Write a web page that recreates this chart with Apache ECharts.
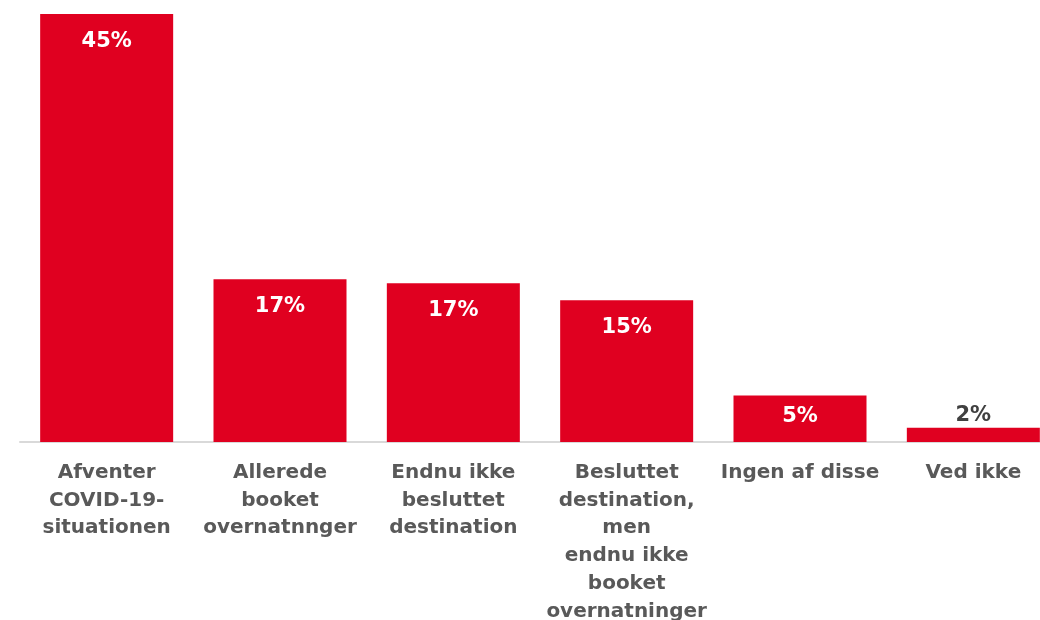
<!DOCTYPE html>
<html>
<head>
<meta charset="utf-8">
<script src="https://cdn.jsdelivr.net/npm/echarts@6/dist/echarts.min.js"></script>
<style>
  html, body { margin: 0; padding: 0; background: #fff; }
  #main { width: 1040px; height: 620px; }
</style>
</head>
<body>
<div id="main"></div>
<script>
// kategorier (med linjeskift som i originalen)
let categories = [
  "Afventer\nCOVID-19-\nsituationen",
  "Allerede\nbooket\novernatnnger",
  "Endnu ikke\nbesluttet\ndestination",
  "Besluttet\ndestination,\nmen\nendnu ikke\nbooket\novernatninger",
  "Ingen af disse",
  "Ved ikke",
];

// andel i procent
let values = [45, 17.1, 16.7, 14.9, 4.9, 1.5];

let red = "#e00020";
let font = "'DejaVu Sans', sans-serif";

let myChart = echarts.init(document.getElementById("main"));

let option = {
  animation: false,
  grid: {
    left: 20,
    right: -20,
    top: 14,
    bottom: 178,
    outerBoundsMode: "none",
  },
  xAxis: {
    type: "category",
    data: categories,
    axisTick: { show: false },
    axisLine: { lineStyle: { color: "#d9d9d9", width: 2 } },
    axisLabel: {
      interval: 0,
      margin: 17,
      color: "#595959",
      fontFamily: font,
      fontWeight: "bold",
      fontSize: 20,
      lineHeight: 27.7,
    },
  },
  yAxis: {
    type: "value",
    min: 0,
    max: 45,
    show: false,
    splitLine: { show: false },
  },
  series: [
    {
      type: "bar",
      barWidth: 133,
      itemStyle: { color: red },
      data: values.map((v) => {
        // små søjler får etiketten over søjlen
        if (v < 3) {
          return {
            value: v,
            label: { position: "top", distance: 2, color: "#404040" },
          };
        }
        if (v < 6) {
          return { value: v, label: { distance: 11 } };
        }
        return v;
      }),
      label: {
        show: true,
        position: "insideTop",
        distance: 17,
        color: "#fff",
        fontFamily: font,
        fontWeight: "bold",
        fontSize: 21,
        formatter: (p) => Math.round(p.value) + "%",
      },
    },
  ],
};

myChart.setOption(option);
</script>
</body>
</html>
